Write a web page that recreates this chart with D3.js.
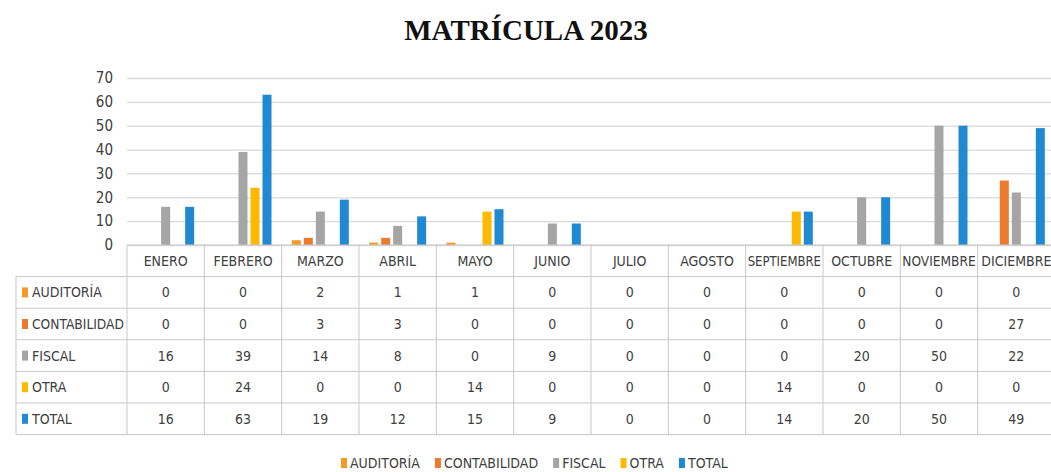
<!DOCTYPE html>
<html>
<head>
<meta charset="utf-8">
<script src="https://cdn.jsdelivr.net/npm/d3@7"></script>
<style>
  body { margin: 0; background: #fff; }
  svg { display: block; }
  text.lbl { font-stretch: condensed; }
</style>
</head>
<body>
<script>
// datos de la gráfica
const months = ["ENERO", "FEBRERO", "MARZO", "ABRIL", "MAYO", "JUNIO", "JULIO", "AGOSTO", "SEPTIEMBRE", "OCTUBRE", "NOVIEMBRE", "DICIEMBRE"];
const seriesNames = ["AUDITORÍA", "CONTABILIDAD", "FISCAL", "OTRA", "TOTAL"];
const auditoria    = [0, 0, 2, 1, 1, 0, 0, 0, 0, 0, 0, 0];
const contabilidad = [0, 0, 3, 3, 0, 0, 0, 0, 0, 0, 0, 27];
const fiscal       = [16, 39, 14, 8, 0, 9, 0, 0, 0, 20, 50, 22];
const otra         = [0, 24, 0, 0, 14, 0, 0, 0, 14, 0, 0, 0];
const total        = [16, 63, 19, 12, 15, 9, 0, 0, 14, 20, 50, 49];
const yTicks = [0, 10, 20, 30, 40, 50, 60, 70];
const colors = ["#F39B26", "#EE7A30", "#A5A5A5", "#FFB900", "#1F8AD2"];

const series = [auditoria, contabilidad, fiscal, otra, total].map((v, i) => ({name: seriesNames[i], values: v, color: colors[i]}));

const width = 1051, height = 472;
const plot = {left: 127, right: 1055, top: 78, bottom: 245};
const tableLeft = 16;
const rowH = 31.6;
const font = "'DejaVu Sans', 'Noto Sans', sans-serif";

const svg = d3.select("body").append("svg").attr("width", width).attr("height", height);

// encoge un texto si no cabe en su celda
const fit = (sel, maxW) => sel.each(function() {
    const w = this.getComputedTextLength();
    if (w > maxW) d3.select(this).attr("textLength", maxW).attr("lengthAdjust", "spacingAndGlyphs");
});

// título
svg.append("text")
    .attr("x", 526).attr("y", 40)
    .attr("text-anchor", "middle")
    .attr("font-family", "'Liberation Serif', 'DejaVu Serif', serif")
    .attr("font-weight", "bold")
    .attr("font-size", 29)
    .attr("fill", "#111")
    .text("MATRÍCULA 2023");

const x = d3.scaleBand().domain(months).range([plot.left, plot.right]);
const bw = x.bandwidth();
const xs = d3.scaleBand().domain(seriesNames)
    .range([bw / 2 - 30, bw / 2 + 30])
    .paddingInner(0.25).paddingOuter(0.125);
const y = d3.scaleLinear().domain([0, 70]).range([plot.bottom, plot.top]);

// eje y con líneas de cuadrícula
const yAxis = g => g
    .attr("transform", `translate(${plot.left},0)`)
    .call(d3.axisLeft(y).tickValues(yTicks).tickSize(-(plot.right - plot.left)).tickPadding(14))
    .call(g => g.select(".domain").remove())
    .call(g => g.selectAll(".tick line").attr("stroke", "#d9d9d9").attr("stroke-width", 1.3))
    .call(g => g.selectAll(".tick text").attr("class", "lbl")
        .attr("font-family", font).attr("font-size", 15).attr("fill", "#404040"));
svg.append("g").call(yAxis);

// barras
const groups = svg.append("g").selectAll("g")
    .data(series).join("g")
    .attr("fill", d => d.color);
groups.selectAll("rect")
    .data(d => d.values.map((v, i) => ({name: d.name, month: months[i], value: v})))
    .join("rect")
    .attr("x", d => x(d.month) + xs(d.name))
    .attr("y", d => y(d.value))
    .attr("width", xs.bandwidth())
    .attr("height", d => y(0) - y(d.value));

// tabla de datos
const table = svg.append("g").attr("stroke", "#c8c8c8").attr("stroke-width", 1);
const rowTop = i => plot.bottom + rowH * (i + 1);
const tableBottom = rowTop(seriesNames.length);
table.append("line").attr("x1", plot.left).attr("x2", plot.right)
    .attr("y1", plot.bottom).attr("y2", plot.bottom);
d3.range(seriesNames.length + 1).forEach(i => {
    table.append("line").attr("x1", tableLeft).attr("x2", plot.right)
        .attr("y1", rowTop(i)).attr("y2", rowTop(i));
});
table.append("line").attr("x1", tableLeft).attr("x2", tableLeft)
    .attr("y1", rowTop(0)).attr("y2", tableBottom);
months.forEach(m => {
    table.append("line").attr("x1", x(m)).attr("x2", x(m))
        .attr("y1", plot.bottom).attr("y2", tableBottom);
});

// encabezados de meses
svg.append("g").selectAll("text")
    .data(months).join("text").attr("class", "lbl")
    .attr("x", d => x(d) + bw / 2)
    .attr("y", plot.bottom + rowH / 2 + 5)
    .attr("text-anchor", "middle")
    .attr("font-family", font).attr("font-size", 14).attr("fill", "#404040")
    .text(d => d)
    .call(fit, bw - 4);

// filas
const rows = svg.append("g").selectAll("g")
    .data(series).join("g")
    .attr("transform", (d, i) => `translate(0,${rowTop(i)})`);
rows.append("rect")
    .attr("x", tableLeft + 6).attr("y", rowH / 2 - 5)
    .attr("width", 6).attr("height", 10)
    .attr("fill", d => d.color);
rows.append("text").attr("class", "lbl")
    .attr("x", tableLeft + 16).attr("y", rowH / 2 + 5)
    .attr("font-family", font).attr("font-size", 14).attr("fill", "#404040")
    .text(d => d.name)
    .call(fit, plot.left - tableLeft - 19);
rows.selectAll("text.val")
    .data(d => d.values.map((v, i) => ({month: months[i], value: v})))
    .join("text").attr("class", "val lbl")
    .attr("x", d => x(d.month) + bw / 2)
    .attr("y", rowH / 2 + 5)
    .attr("text-anchor", "middle")
    .attr("font-family", font).attr("font-size", 14).attr("fill", "#404040")
    .text(d => d.value);

// leyenda
const legend = svg.append("g").attr("transform", "translate(0,463)");
let lx = 341;
series.forEach(s => {
    const item = legend.append("g").attr("transform", `translate(${lx},0)`);
    item.append("rect").attr("x", 0).attr("y", -5).attr("width", 6).attr("height", 10).attr("fill", s.color);
    const t = item.append("text").attr("class", "lbl").attr("x", 9).attr("y", 5)
        .attr("font-family", font).attr("font-size", 14).attr("fill", "#404040")
        .text(s.name);
    lx += 9 + t.node().getComputedTextLength() + 15;
});
</script>
</body>
</html>
